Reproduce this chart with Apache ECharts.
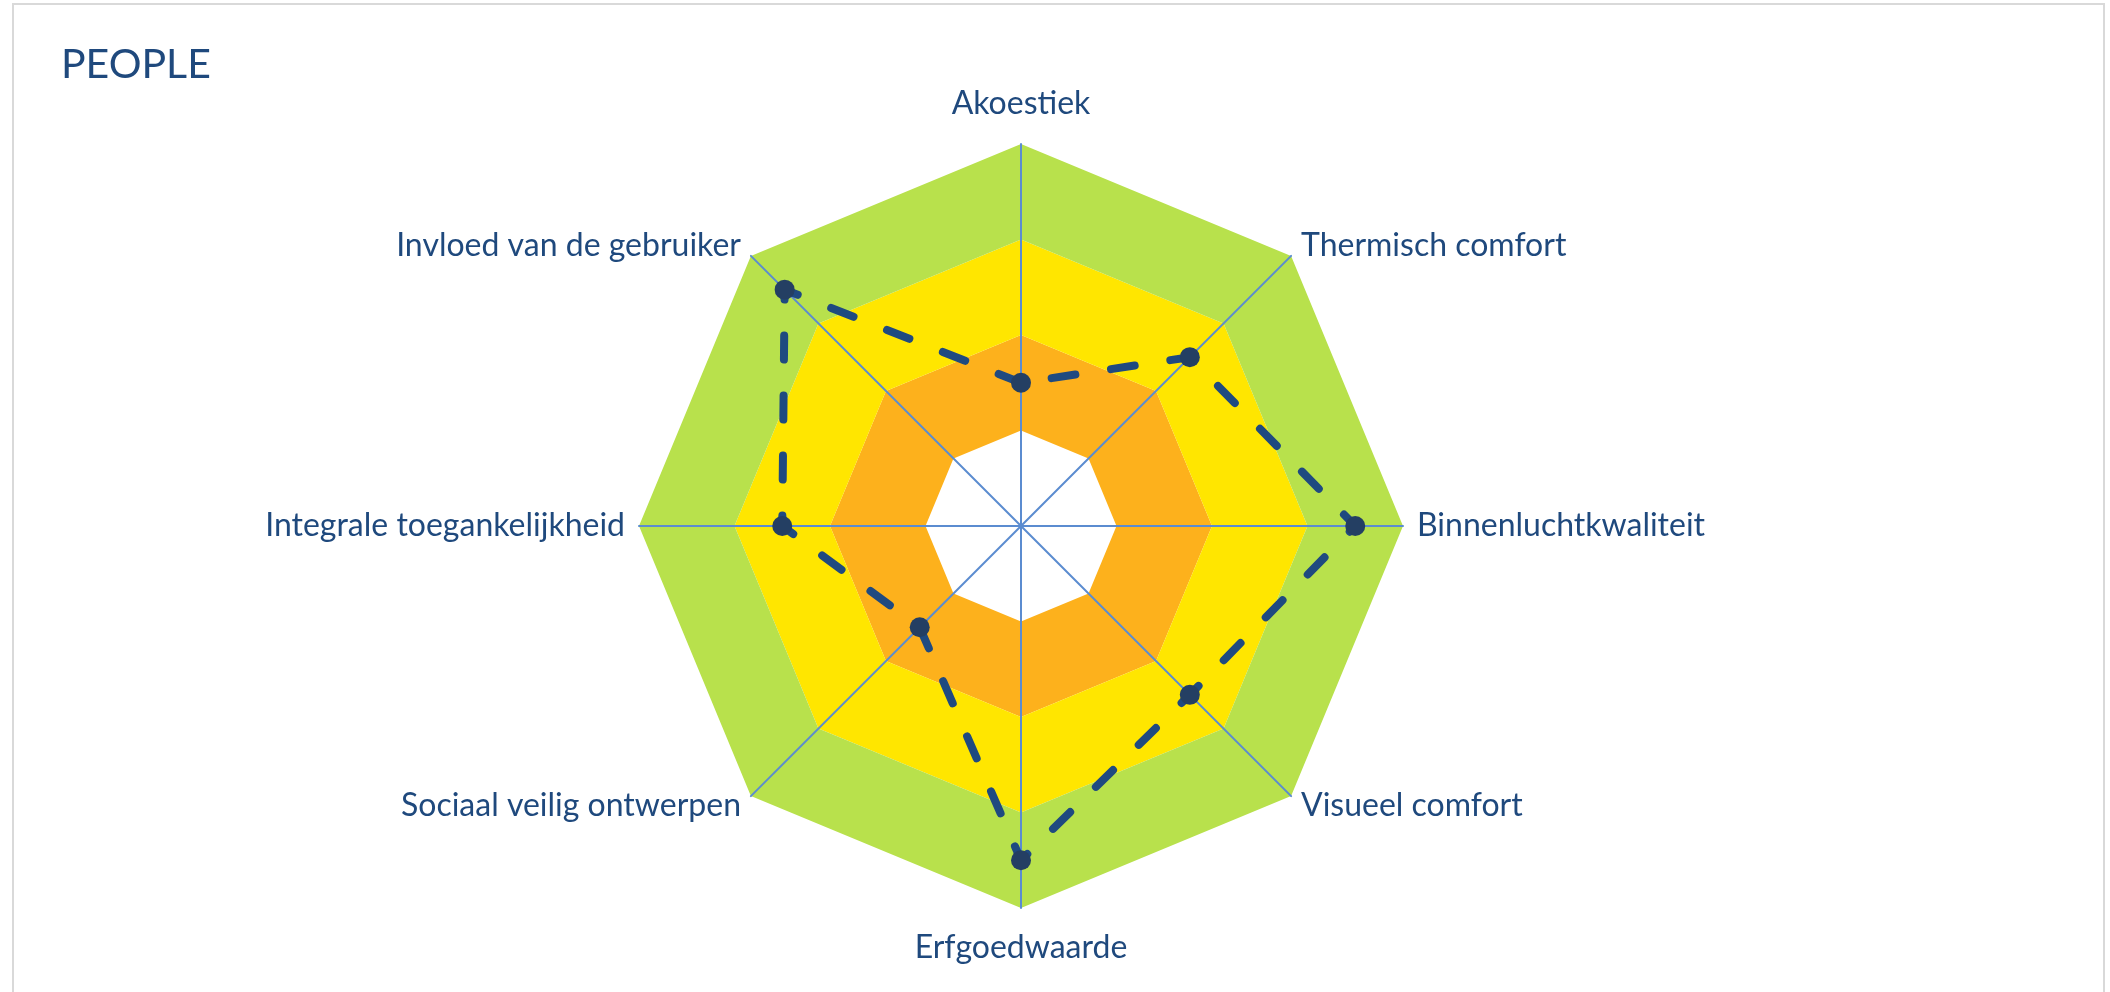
<!DOCTYPE html>
<html>
<head>
<meta charset="utf-8">
<script src="https://cdn.jsdelivr.net/npm/echarts@6/dist/echarts.min.js"></script>
<style>
html,body{margin:0;padding:0;background:#fff;}
#chart{width:2110px;height:992px;}
</style>
</head>
<body>
<div id="chart"></div>
<script>
// Categories listed clockwise starting at the top
const categories = [
  'Akoestiek',
  'Thermisch comfort',
  'Binnenluchtkwaliteit',
  'Visueel comfort',
  'Erfgoedwaarde',
  'Sociaal veilig ontwerpen',
  'Integrale toegankelijkheid',
  'Invloed van de gebruiker'
];
const scores = [1.5, 2.5, 3.5, 2.5, 3.5, 1.5, 2.5, 3.5];
const maxScore = 4;
const bandColors = ['#ffffff', '#FDB11C', '#FFE600', '#B8E14C'];
const chartTitle = 'PEOPLE';

// ECharts places indicators counter-clockwise; reorder so the picture runs clockwise
const order = [0].concat(categories.map((_, i) => i).slice(1).reverse());
const indicators = order.map(i => ({ name: categories[i], max: maxScore, min: 0 }));
const values = order.map(i => scores[i]);
const verticalNames = [categories[0], categories[4]];

const chart = echarts.init(document.getElementById('chart'), null, { renderer: 'canvas' });
chart.setOption({
  backgroundColor: '#ffffff',
  animation: false,
  title: {
    text: chartTitle,
    left: 56,
    top: 39,
    textStyle: { fontFamily: 'Lato', fontSize: 41, fontWeight: 'normal', color: '#1F497D' }
  },
  graphic: [{
    type: 'rect',
    shape: { x: 13, y: 4, width: 2091, height: 1010 },
    style: { fill: 'none', stroke: '#D9D9D9', lineWidth: 2 },
    silent: true,
    z: -1
  }],
  radar: {
    center: [1021, 526],
    radius: 382,
    startAngle: 90,
    splitNumber: 4,
    shape: 'polygon',
    nameGap: 14,
    indicator: indicators,
    axisName: {
      color: '#1F497D',
      fontFamily: 'Lato',
      fontSize: 32,
      formatter: (name) => verticalNames.indexOf(name) >= 0 ? '{v|' + name + '}' : name,
      rich: {
        v: { color: '#1F497D', fontFamily: 'Lato', fontSize: 32, padding: [10, 0, 10, 0] }
      }
    },
    axisLine: { show: true, lineStyle: { color: '#5B8CD0', width: 2 } },
    splitLine: { show: false },
    splitArea: { show: true, areaStyle: { color: bandColors, opacity: 1 } },
    axisTick: { show: false },
    axisLabel: { show: false }
  },
  series: [{
    type: 'radar',
    symbol: 'circle',
    symbolSize: 20,
    lineStyle: { color: '#1F4A80', width: 8, type: [24, 36], cap: 'round' },
    itemStyle: { color: '#243F63' },
    data: [{ value: values, name: chartTitle }]
  }]
});
</script>
</body>
</html>
